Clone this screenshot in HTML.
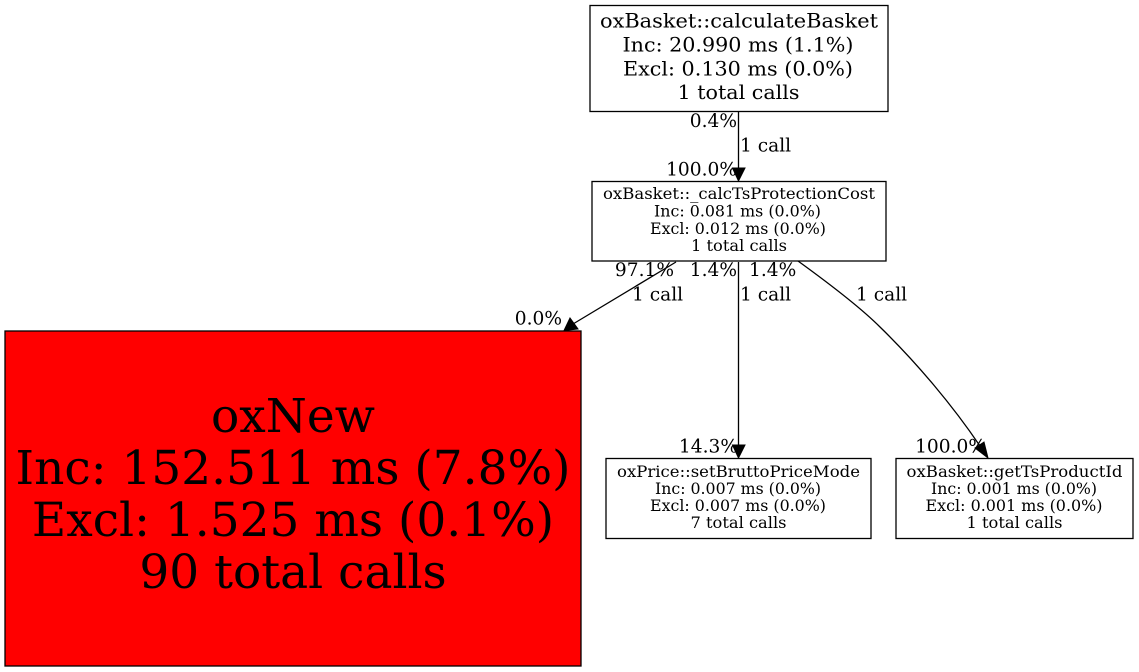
<!DOCTYPE html>
<html>
<head>
<meta charset="utf-8">
<style>
html,body{margin:0;padding:0;background:#fff;width:1139px;height:672px;overflow:hidden}
svg{display:block}
text{font-family:"DejaVu Serif",serif;fill:#000}
.a{font-size:20px;text-anchor:middle}
.b{font-size:15.5px;text-anchor:middle}
.c{font-size:47px;text-anchor:middle}
.e{font-size:18.6px}
.r{font-size:18.6px;text-anchor:end}
rect,path.l{stroke:#000;stroke-width:1.3;fill:none}
</style>
</head>
<body>
<svg width="1139" height="672" viewBox="0 0 1139 672" xmlns="http://www.w3.org/2000/svg">
<rect x="590" y="5.5" width="298" height="106" fill="#fff"/>
<text class="a" x="739" y="27.5" textLength="278" lengthAdjust="spacingAndGlyphs">oxBasket::calculateBasket</text>
<text class="a" x="738" y="51.5" textLength="231" lengthAdjust="spacingAndGlyphs">Inc: 20.990 ms (1.1%)</text>
<text class="a" x="738" y="75.5" textLength="230" lengthAdjust="spacingAndGlyphs">Excl: 0.130 ms (0.0%)</text>
<text class="a" x="738.5" y="99" textLength="122" lengthAdjust="spacingAndGlyphs">1 total calls</text>

<rect x="592" y="181.5" width="294" height="79.5"/>
<text class="b" x="739" y="199" textLength="272" lengthAdjust="spacingAndGlyphs">oxBasket::_calcTsProtectionCost</text>
<text class="b" x="737.5" y="216.5" textLength="167" lengthAdjust="spacingAndGlyphs">Inc: 0.081 ms (0.0%)</text>
<text class="b" x="738" y="234" textLength="176" lengthAdjust="spacingAndGlyphs">Excl: 0.012 ms (0.0%)</text>
<text class="b" x="739" y="251" textLength="96" lengthAdjust="spacingAndGlyphs">1 total calls</text>

<rect x="5" y="331" width="576" height="335" style="fill:#f00"/>
<text class="c" x="293" y="432">oxNew</text>
<text class="c" x="293" y="484">Inc: 152.511 ms (7.8%)</text>
<text class="c" x="293" y="536">Excl: 1.525 ms (0.1%)</text>
<text class="c" x="293" y="588">90 total calls</text>

<rect x="606" y="458.5" width="265" height="80"/>
<text class="b" x="738.5" y="477" textLength="243" lengthAdjust="spacingAndGlyphs">oxPrice::setBruttoPriceMode</text>
<text class="b" x="738" y="494" textLength="166" lengthAdjust="spacingAndGlyphs">Inc: 0.007 ms (0.0%)</text>
<text class="b" x="738" y="511" textLength="176" lengthAdjust="spacingAndGlyphs">Excl: 0.007 ms (0.0%)</text>
<text class="b" x="738.5" y="528" textLength="96" lengthAdjust="spacingAndGlyphs">7 total calls</text>

<rect x="896" y="458.5" width="237" height="80"/>
<text class="b" x="1014.5" y="477" textLength="216" lengthAdjust="spacingAndGlyphs">oxBasket::getTsProductId</text>
<text class="b" x="1014" y="494" textLength="166" lengthAdjust="spacingAndGlyphs">Inc: 0.001 ms (0.0%)</text>
<text class="b" x="1014" y="511" textLength="177" lengthAdjust="spacingAndGlyphs">Excl: 0.001 ms (0.0%)</text>
<text class="b" x="1014.5" y="528" textLength="96" lengthAdjust="spacingAndGlyphs">1 total calls</text>

<path class="l" d="M738.5,112V169"/>
<path d="M732.5,168L738.5,181L745,168Z" fill="#000" stroke="#000"/>
<path class="l" d="M676,262L573,324"/>
<path d="M570,318L564,330.5L578,329Z" fill="#000" stroke="#000"/>
<path class="l" d="M738.5,262V446"/>
<path d="M732.5,445L738.5,458L745,445Z" fill="#000" stroke="#000"/>
<path class="l" d="M798,261C827,282 859,306 880,327C917,363 953,406 980,446"/>
<path d="M975,448L988,458L984,442Z" fill="#000" stroke="#000"/>

<text class="r" x="737" y="127">0.4%</text>
<text class="e" x="740" y="151.5">1 call</text>
<text class="r" x="737" y="175.5">100.0%</text>
<text class="r" x="674" y="276">97.1%</text>
<text class="r" x="737" y="276">1.4%</text>
<text class="e" x="749" y="276">1.4%</text>
<text class="e" x="632" y="300.5">1 call</text>
<text class="e" x="740" y="300.5">1 call</text>
<text class="e" x="856" y="300.5">1 call</text>
<text class="r" x="562" y="324.5">0.0%</text>
<text class="r" x="738" y="452.5">14.3%</text>
<text class="r" x="986" y="452.5">100.0%</text>
</svg>
</body>
</html>
